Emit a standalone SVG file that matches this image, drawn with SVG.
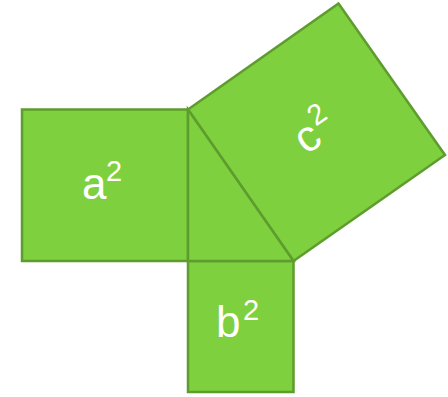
<svg xmlns="http://www.w3.org/2000/svg" width="448" height="397" viewBox="0 0 448 397">
<style>
.sq{fill:#7ED03E;stroke:#5E9C2E;stroke-width:2.5;stroke-linejoin:miter}
.lbl{fill:#FFFFFF;font-family:"Liberation Sans",Arial,sans-serif;font-size:44px}
.sup{font-size:29px}
</style>
<g id="square-a">
<rect class="sq" x="22" y="109.5" width="166" height="151.5"/>
<text class="lbl" x="82" y="199">a<tspan class="sup" x="106" y="181">2</tspan></text>
</g>
<g id="square-b">
<rect class="sq" x="188" y="261" width="105.5" height="131"/>
<text class="lbl" x="216" y="337">b<tspan class="sup" x="243" y="320">2</tspan></text>
</g>
<g id="square-c">
<polygon class="sq" points="188,109.5 338.5,3.5 445,155 293.5,261"/>
<text class="lbl" transform="translate(314,128) rotate(-34.8)" x="-22" y="18">c<tspan class="sup" x="2" y="0">2</tspan></text>
</g>
<g id="triangle">
<polygon class="sq" points="188,109.5 188,261 293.5,261"/>
</g>
<g id="connectors"></g>
</svg>
